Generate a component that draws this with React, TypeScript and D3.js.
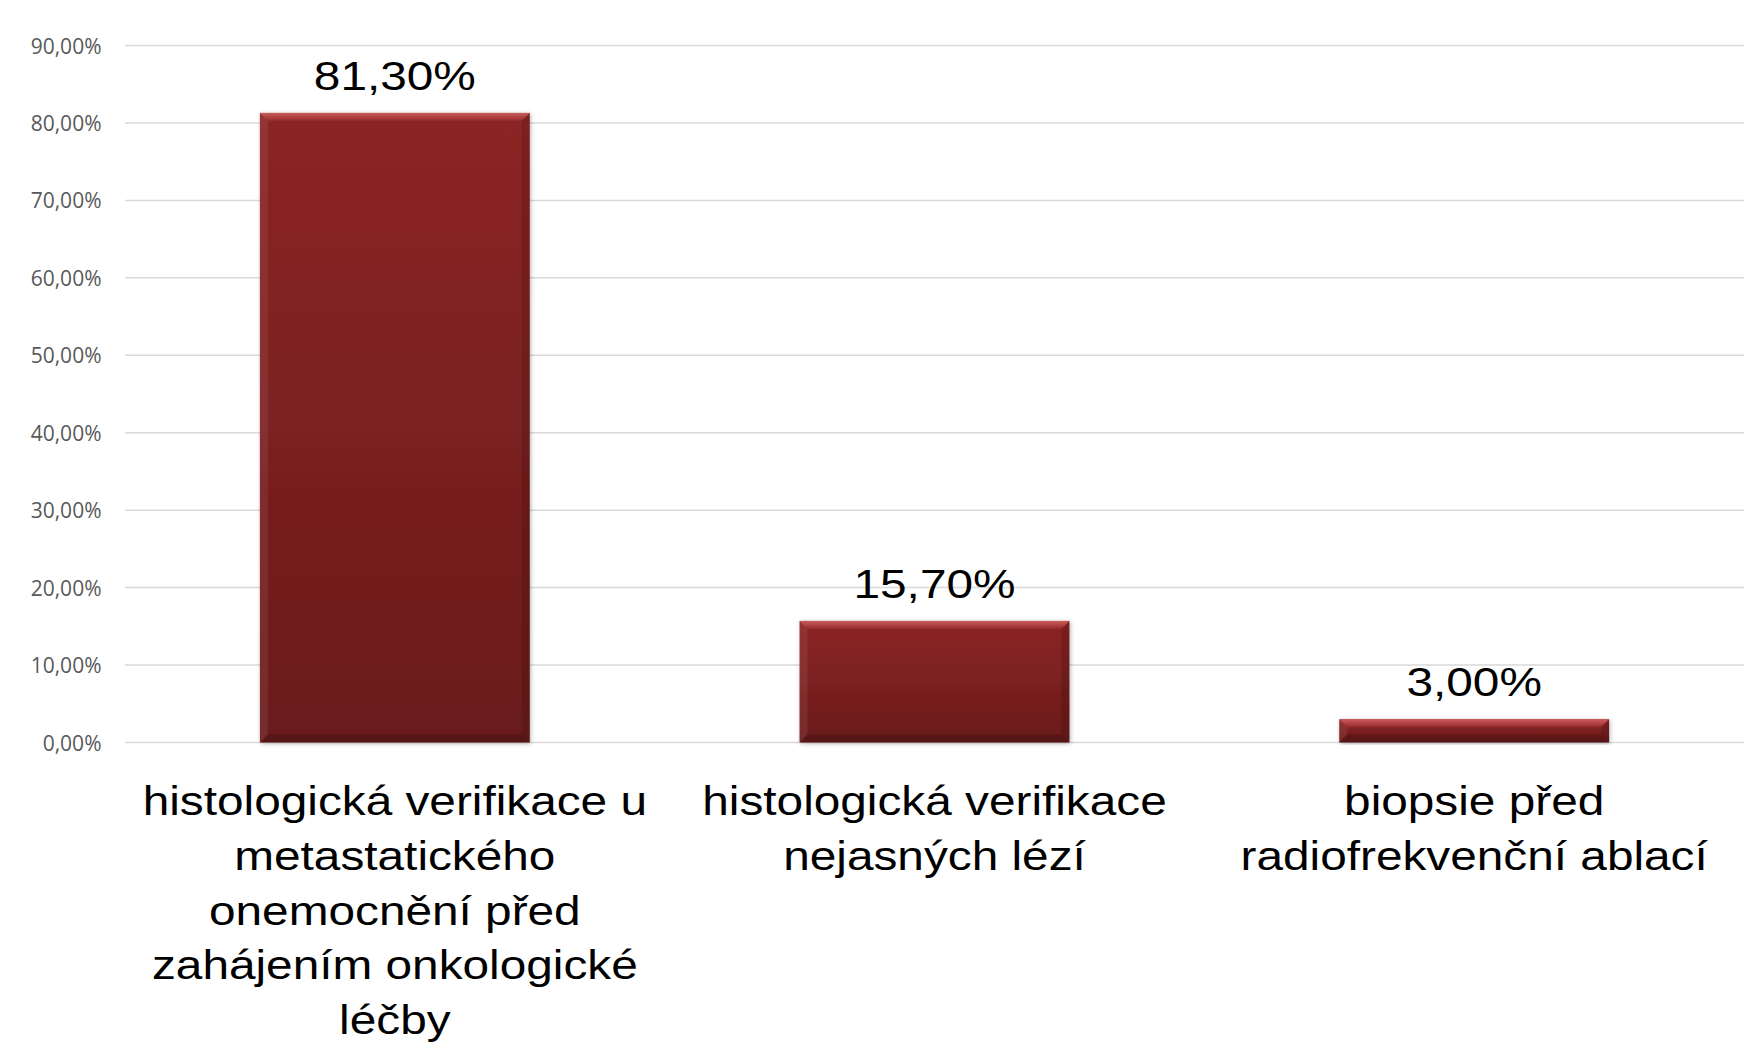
import React from "react";
import * as d3 from "d3";

const categories: string[][] = [
  ["histologická verifikace u", "metastatického", "onemocnění před", "zahájením onkologické", "léčby"],
  ["histologická verifikace", "nejasných lézí"],
  ["biopsie před", "radiofrekvenční ablací"],
];
const values: number[] = [81.3, 15.7, 3.0];
const yTicks: number[] = [0, 10, 20, 30, 40, 50, 60, 70, 80, 90];

const W = 1751;
const H = 1042;

const fmt = (v: number) => v.toFixed(2).replace(".", ",") + "%";

export default function App() {
  const x = d3
    .scaleBand<number>()
    .domain(values.map((_, i) => i))
    .range([125, 1744])
    .paddingInner(0.5)
    .paddingOuter(0.25);
  const y = d3.scaleLinear().domain([0, 90]).range([742.5, 45.5]);
  const bw = x.bandwidth();
  const b = 8;

  return (
    <svg
      width={W}
      height={H}
      style={{ position: "absolute", left: 0, top: 0, background: "#fff" }}
    >
      <defs>
        <linearGradient id="body" x1="0" y1="0" x2="0" y2="1">
          <stop offset="0" stopColor="#8c2525" />
          <stop offset="1" stopColor="#6a1b1b" />
        </linearGradient>
        <linearGradient id="topb" x1="0" y1="0" x2="0" y2="1">
          <stop offset="0" stopColor="#cc5c5c" />
          <stop offset="1" stopColor="#962a2a" />
        </linearGradient>
        <filter id="sh" x="-10%" y="-10%" width="120%" height="120%">
          <feDropShadow dx="1" dy="1" stdDeviation="2" floodColor="#000" floodOpacity="0.3" />
        </filter>
      </defs>

      {yTicks.map((t) => (
        <g key={t}>
          <line x1={125} x2={1744} y1={y(t)} y2={y(t)} stroke="#d9d9d9" strokeWidth={1.5} />
          <text
            x={101.5}
            y={y(t) + 8}
            textAnchor="end"
            fontFamily="'Open Sans', sans-serif"
            fontSize={21}
            fill="#595959"
          >
            {fmt(t)}
          </text>
        </g>
      ))}

      {values.map((v, i) => {
        const x0 = x(i)!;
        const x1 = x0 + bw;
        const y0 = y(v);
        const y1 = y(0);
        const bb = Math.min(b, (y1 - y0) / 2);
        return (
          <g key={i}>
            <rect x={x0} y={y0} width={bw} height={y1 - y0} fill="url(#body)" filter="url(#sh)" />
            <polygon
              points={`${x0},${y0} ${x1},${y0} ${x1 - bb},${y0 + bb} ${x0 + bb},${y0 + bb}`}
              fill="url(#topb)"
            />
            <polygon
              points={`${x0},${y0} ${x0 + bb},${y0 + bb} ${x0 + bb},${y1 - bb} ${x0},${y1}`}
              fill="#ffffff"
              opacity={0.07}
            />
            <polygon
              points={`${x1},${y0} ${x1 - bb},${y0 + bb} ${x1 - bb},${y1 - bb} ${x1},${y1}`}
              fill="#000"
              opacity={0.12}
            />
            <polygon
              points={`${x0},${y1} ${x0 + bb},${y1 - bb} ${x1 - bb},${y1 - bb} ${x1},${y1}`}
              fill="#000"
              opacity={0.18}
            />
            <text
              transform={`translate(${x0 + bw / 2},${y0 - 23}) scale(1.18,1)`}
              textAnchor="middle"
              fontFamily="'Liberation Sans', Arial, sans-serif"
              fontSize={40.5}
              fill="#000"
            >
              {fmt(v)}
            </text>
          </g>
        );
      })}

      {categories.map((lines, i) => (
        <g key={i}>
          {lines.map((ln, j) => (
            <text
              key={j}
              transform={`translate(${x(i)! + bw / 2},${815 + j * 54.8}) scale(1.165,1)`}
              textAnchor="middle"
              fontFamily="'Liberation Sans', Arial, sans-serif"
              fontSize={41}
              fill="#000"
            >
              {ln}
            </text>
          ))}
        </g>
      ))}
    </svg>
  );
}
